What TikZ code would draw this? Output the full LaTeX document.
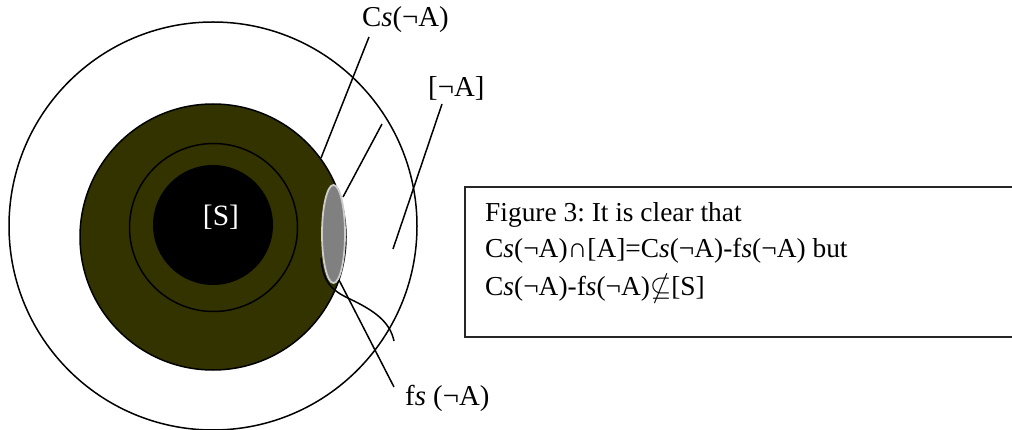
\documentclass[tikz,border=0pt]{standalone}
\usepackage{fontspec}
\usepackage{amssymb}
\setmainfont{Liberation Serif}
\definecolor{olivedark}{RGB}{51,51,0}
\definecolor{ellgray}{RGB}{128,128,128}
\definecolor{ellrim}{RGB}{205,205,205}
\frenchspacing
\begin{document}
\begin{tikzpicture}[x=1pt,y=-1pt,
  outline/.style={draw=black,line width=1.5pt},
  leader/.style={draw=black,line width=1.5pt},
  lbl/.style={inner sep=0pt,anchor=base west,font=\fontsize{28.8}{34}\selectfont},
  boxtxt/.style={inner sep=0pt,anchor=base west,font=\fontsize{27.4}{34}\selectfont}]
\useasboundingbox (0,0) rectangle (1012,430);
% circles
\draw[outline] (213,226) circle[radius=204];
\draw[outline,fill=olivedark] (213,237) circle[radius=133];
\draw[outline] (213.5,227.5) circle[radius=84];
\fill[black] (213,225) circle[radius=60];
\node[inner sep=0pt,anchor=base,text=white,font=\fontsize{29.5}{34}\selectfont] (S) at (221,226) {[S]};
\draw[draw=ellrim,line width=1.8pt,fill=ellgray] (333.5,234) ellipse[x radius=11.5, y radius=49];
% labels
\node[lbl] (cs) at (362,27) {C\textit{s}(¬A)};
\node[lbl] (na) at (428,97) {[¬A]};
\node[lbl] (fs) at (405,405) {f\textit{s} (¬A)};
% leader end points
\coordinate (c1a) at (369,37);  \coordinate (c1b) at (321,158);
\coordinate (c2a) at (382,124); \coordinate (c2b) at (343,197);
\coordinate (n1a) at (442,104); \coordinate (n1b) at (393,249);
\coordinate (f1a) at (339,280); \coordinate (f1b) at (394,387);
\coordinate (q0) at (321,258); \coordinate (q1) at (350,299); \coordinate (q2) at (394,341);
\draw[leader] (c1a) -- (c1b);
\draw[leader] (c2a) -- (c2b);
\draw[leader] (n1a) -- (n1b);
\draw[leader] (f1a) -- (f1b);
\draw[leader] (q0) .. controls (323,285) and (335,292) .. (q1) .. controls (375,311) and (390,322) .. (q2);
% text box
\node[draw=black!85,line width=2.4pt,inner sep=0pt,anchor=north west,minimum width=570pt,minimum height=150pt] (box) at (464,186) {};
\node[boxtxt] (t1) at (485,222) {Figure 3: It is clear that};
\node[boxtxt] (t2) at (485,258) {C\textit{s}(¬A)∩[A]=C\textit{s}(¬A)-f\textit{s}(¬A) but};
\node[boxtxt] (t3) at (485,296) {C\textit{s}(¬A)-f\textit{s}(¬A)$\nsubseteq$[S]};
\end{tikzpicture}
\end{document}
